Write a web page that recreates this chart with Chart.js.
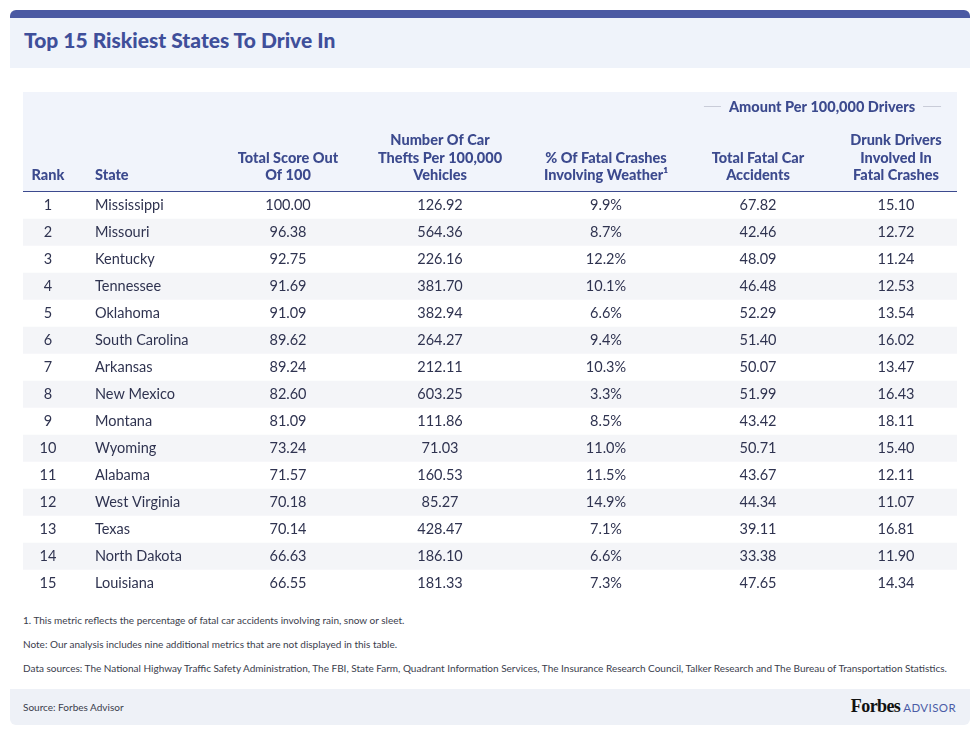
<!DOCTYPE html>
<html>
<head>
<meta charset="utf-8">
<script src="https://cdn.jsdelivr.net/npm/chart.js@4.4.0/dist/chart.umd.min.js"></script>
<style>
  body { margin: 0; width: 980px; height: 735px; background: #fff; font-family: Lato, sans-serif; position: relative; overflow: hidden; }
  .band { position: absolute; left: 10px; top: 10px; width: 960px; height: 8px; background: #4b5aa3; border-radius: 6px 6px 0 0; }
  .titlebox { position: absolute; left: 10px; top: 18px; width: 960px; height: 50px; background: #eff3fa; }
  .title { position: absolute; left: 14px; top: 9px; font-size: 21px; font-weight: 900; color: #3f4f9a; line-height: 26px; }
  #wrap { position: absolute; left: 23px; top: 92px; width: 934px; height: 505px; }
  .note { position: absolute; left: 23px; font-size: 10px; color: #3a3d4c; line-height: 12px; white-space: nowrap; }
  .footer { position: absolute; left: 10px; top: 689px; width: 960px; height: 36px; background: #eef1f7; border-radius: 0 0 6px 6px; }
  .src { position: absolute; left: 13px; top: 11px; font-size: 10px; color: #3a3d4c; line-height: 14px; }
  .brand { position: absolute; right: 14px; top: 7px; white-space: nowrap; }
  .forbes { font-family: "Liberation Serif", serif; font-weight: 700; font-size: 18px; color: #111; letter-spacing: -0.6px; }
  .advisor { font-size: 11.5px; color: #4b5ca6; letter-spacing: 0.4px; margin-left: 3px; }
</style>
</head>
<body>
<div class="band"></div>
<div class="titlebox"><div class="title">Top 15 Riskiest States To Drive In</div></div>
<div id="wrap"><canvas id="tabla" width="934" height="505"></canvas></div>
<div class="note" style="top:614px">1. This metric reflects the percentage of fatal car accidents involving rain, snow or sleet.</div>
<div class="note" style="top:638px">Note: Our analysis includes nine additional metrics that are not displayed in this table.</div>
<div class="note" style="top:662px">Data sources: The National Highway Traffic Safety Administration, The FBI, State Farm, Quadrant Information Services, The Insurance Research Council, Talker Research and The Bureau of Transportation Statistics.</div>
<div class="footer">
  <div class="src">Source: Forbes Advisor</div>
  <div class="brand"><span class="forbes">Forbes</span><span class="advisor">ADVISOR</span></div>
</div>
<script>
// datos de la tabla
const ranks = [1, 2, 3, 4, 5, 6, 7, 8, 9, 10, 11, 12, 13, 14, 15];
const states = ['Mississippi', 'Missouri', 'Kentucky', 'Tennessee', 'Oklahoma', 'South Carolina', 'Arkansas',
  'New Mexico', 'Montana', 'Wyoming', 'Alabama', 'West Virginia', 'Texas', 'North Dakota', 'Louisiana'];
const totalScore = [100.00, 96.38, 92.75, 91.69, 91.09, 89.62, 89.24, 82.60, 81.09, 73.24, 71.57, 70.18, 70.14, 66.63, 66.55];
const carThefts = [126.92, 564.36, 226.16, 381.70, 382.94, 264.27, 212.11, 603.25, 111.86, 71.03, 160.53, 85.27, 428.47, 186.10, 181.33];
const weatherPct = [9.9, 8.7, 12.2, 10.1, 6.6, 9.4, 10.3, 3.3, 8.5, 11.0, 11.5, 14.9, 7.1, 6.6, 7.3];
const fatalAccidents = [67.82, 42.46, 48.09, 46.48, 52.29, 51.40, 50.07, 51.99, 43.42, 50.71, 43.67, 44.34, 39.11, 33.38, 47.65];
const drunkDrivers = [15.10, 12.72, 11.24, 12.53, 13.54, 16.02, 13.47, 16.43, 18.11, 15.40, 12.11, 11.07, 16.81, 11.90, 14.34];

const headers = [
  ['Rank'],
  ['State'],
  ['Total Score Out', 'Of 100'],
  ['Number Of Car', 'Thefts Per 100,000', 'Vehicles'],
  ['% Of Fatal Crashes', 'Involving Weather\u00B9'],
  ['Total Fatal Car', 'Accidents'],
  ['Drunk Drivers', 'Involved In', 'Fatal Crashes']
];
const groupTitle = 'Amount Per 100,000 Drivers';

// posiciones de columnas (en unidades del eje x, 0..934)
const colPos = [25, 72, 265, 417, 583, 735, 873];
const colAlign = ['center', 'left', 'center', 'center', 'center', 'center', 'center'];
const tableWidth = 934;

const headColor = '#3c4a8e';
const bodyColor = '#2f3350';

window.addEventListener('load', () => {
  const cells = states.map((s, i) => [
    String(ranks[i]), s, totalScore[i].toFixed(2), carThefts[i].toFixed(2),
    weatherPct[i].toFixed(1) + '%', fatalAccidents[i].toFixed(2), drunkDrivers[i].toFixed(2)
  ]);

  const tablePlugin = {
    id: 'tableText',
    beforeDraw(chart) {
      const { ctx, chartArea } = chart;
      ctx.save();
      ctx.fillStyle = '#f1f4fb';
      ctx.fillRect(chartArea.left, 0, chartArea.right - chartArea.left, chartArea.top);
      ctx.restore();
    },
    afterDraw(chart) {
      const { ctx, chartArea, scales: { x, y } } = chart;
      ctx.save();
      // encabezados
      ctx.fillStyle = headColor;
      ctx.font = '900 14.5px Lato';
      ctx.textBaseline = 'alphabetic';
      headers.forEach((lines, c) => {
        const px = x.getPixelForValue(colPos[c]);
        ctx.textAlign = colAlign[c];
        lines.forEach((ln, k) => {
          ctx.fillText(ln, px, chartArea.top - 12 - (lines.length - 1 - k) * 17.5);
        });
      });
      // grupo
      const gx = x.getPixelForValue((colPos[5] + colPos[6]) / 2 - 5);
      const gy = chartArea.top - 80;
      ctx.textAlign = 'center';
      ctx.fillText(groupTitle, gx, gy);
      const gw = ctx.measureText(groupTitle).width;
      ctx.strokeStyle = '#c9ccd8';
      ctx.lineWidth = 1;
      ctx.beginPath();
      ctx.moveTo(gx - gw / 2 - 25, gy - 5.5); ctx.lineTo(gx - gw / 2 - 8, gy - 5.5);
      ctx.moveTo(gx + gw / 2 + 8, gy - 5.5); ctx.lineTo(gx + gw / 2 + 26, gy - 5.5);
      ctx.stroke();
      // celdas
      ctx.fillStyle = bodyColor;
      ctx.font = '14.5px Lato';
      ctx.textBaseline = 'middle';
      cells.forEach((row, i) => {
        const py = y.getPixelForValue(i);
        row.forEach((txt, c) => {
          ctx.textAlign = colAlign[c];
          ctx.fillText(txt, x.getPixelForValue(colPos[c]), py);
        });
      });
      ctx.restore();
    }
  };

  new Chart(document.getElementById('tabla').getContext('2d'), {
    type: 'bar',
    data: {
      labels: states,
      datasets: [{
        data: states.map(() => [0, tableWidth]),
        backgroundColor: (c) => c.dataIndex % 2 ? '#f4f5f8' : '#ffffff',
        borderWidth: 0,
        barPercentage: 1,
        categoryPercentage: 1
      }]
    },
    options: {
      indexAxis: 'y',
      responsive: false,
      animation: false,
      layout: { padding: { top: 100, left: 0, right: 0, bottom: 0 } },
      plugins: { legend: { display: false }, tooltip: { enabled: false } },
      scales: {
        x: {
          type: 'linear', position: 'top', min: 0, max: tableWidth,
          ticks: { display: false },
          grid: { display: false, drawTicks: false },
          border: { display: true, color: '#3c4a8e', width: 2 }
        },
        y: {
          type: 'category',
          ticks: { display: false },
          grid: {
            offset: true, drawTicks: false,
            color: (c) => (c.index === 0 || c.index === states.length) ? 'rgba(0,0,0,0)' : '#e8eaf0'
          },
          border: { display: false }
        }
      }
    },
    plugins: [tablePlugin]
  });
});
</script>
</body>
</html>
